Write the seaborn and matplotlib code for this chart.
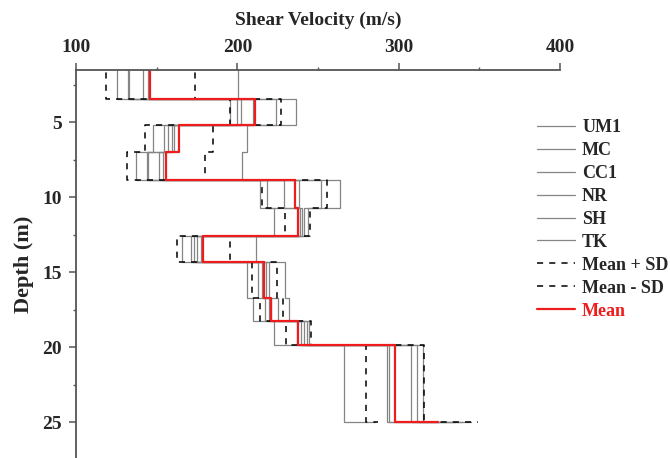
import pandas as pd
import seaborn as sns
import matplotlib
import matplotlib.pyplot as plt
from matplotlib.ticker import MultipleLocator

matplotlib.use('Agg')

# top depth of each layer (m), last one is the top of the half-space
depths = [0.0, 3.4, 5.2, 7.0, 8.85, 10.7, 12.55, 14.33, 16.72, 18.28, 19.83, 25.0]

# shear velocity (m/s) of each layer for every site
um1 = [125.4, 195.4, 147.5, 137.4, 214.1, 222.8, 165.4, 206.2, 209.7, 222.8, 265.9, 285.0]
mc = [132.2, 200.0, 154.4, 144.0, 218.2, 237.5, 171.4, 213.1, 217.0, 237.0, 292.7, 315.0]
cc1 = [133.0, 202.0, 157.0, 144.4, 229.0, 238.9, 173.0, 215.0, 219.7, 239.4, 294.0, 325.0]
nr = [141.3, 210.0, 159.5, 151.7, 237.9, 240.0, 175.1, 217.6, 221.0, 241.4, 307.8, 335.0]
sh = [144.9, 224.2, 160.6, 154.0, 251.8, 241.4, 177.2, 219.7, 224.9, 243.1, 311.3, 340.0]
tk = [200.2, 236.3, 205.8, 203.1, 263.6, 243.5, 211.4, 229.6, 232.1, 244.5, 315.0, 345.0]

mean_vs = [146.1, 211.0, 164.1, 155.8, 235.8, 237.3, 178.6, 216.2, 220.7, 237.3, 297.8, 324.4]
mean_plus_sd = [173.6, 227.1, 185.1, 179.9, 255.3, 245.2, 195.2, 224.3, 228.0, 245.6, 315.9, 349.2]
mean_minus_sd = [118.7, 195.4, 143.0, 131.6, 215.5, 229.6, 162.7, 208.9, 213.9, 230.0, 279.8, 287.4]

profiles = {
    'UM1': um1, 'MC': mc, 'CC1': cc1, 'NR': nr, 'SH': sh, 'TK': tk,
    'Mean + SD': mean_plus_sd, 'Mean - SD': mean_minus_sd, 'Mean': mean_vs,
}

# long table for seaborn
rows = []
for name, vals in profiles.items():
    for d, v in zip(depths, vals):
        rows.append({'profile': name, 'depth': d, 'velocity': v})
df = pd.DataFrame(rows)

sns.set_style('ticks')
plt.rcParams['font.family'] = ['Liberation Serif', 'DejaVu Serif']
plt.rcParams['font.weight'] = 'bold'
plt.rcParams['axes.labelweight'] = 'bold'

fig, ax = plt.subplots(figsize=(6.7, 4.58), dpi=100)
fig.subplots_adjust(left=0.1134, right=0.836, top=0.847, bottom=0.0)

line_styles = {
    'Mean + SD': dict(color='black', lw=1.1, linestyle=(0, (4, 4))),
    'Mean - SD': dict(color='black', lw=1.1, linestyle=(0, (4, 4))),
    'Mean': dict(color='#ee1c1c', lw=1.6, linestyle='-'),
}

for name in profiles:
    kw = line_styles.get(name, dict(color='#858585', lw=0.9, linestyle='-'))
    sns.lineplot(data=df[df['profile'] == name], x='velocity', y='depth',
                 sort=False, estimator=None, drawstyle='steps-pre',
                 label=name, ax=ax, **kw)

handles, labels = ax.get_legend_handles_labels()
if ax.get_legend() is not None:
    ax.get_legend().remove()

ax.set_xlim(100, 400)
ax.set_ylim(27.4, 1.5)
ax.xaxis.tick_top()
ax.xaxis.set_label_position('top')
ax.xaxis.set_major_locator(MultipleLocator(100))
ax.xaxis.set_minor_locator(MultipleLocator(50))
ax.yaxis.set_major_locator(MultipleLocator(5))
ax.yaxis.set_minor_locator(MultipleLocator(2.5))
ax.set_yticks([5, 10, 15, 20, 25])

ax.set_xlabel('Shear Velocity (m/s)', fontsize=14, fontweight='bold', labelpad=10)
ax.set_ylabel('Depth (m)', fontsize=16, fontweight='bold', labelpad=6)

ax.tick_params(which='major', length=5, width=1.1, color='#555555', labelsize=14, pad=5)
ax.tick_params(which='minor', length=2.5, width=1.0, color='#555555')
ax.tick_params(axis='x', which='both', top=True, bottom=False)
for lab in ax.get_xticklabels() + ax.get_yticklabels():
    lab.set_fontweight('bold')

for side in ['right', 'bottom']:
    ax.spines[side].set_visible(False)
for side in ['top', 'left']:
    ax.spines[side].set_color('#555555')
    ax.spines[side].set_linewidth(1.3)

leg = fig.legend(handles, labels, loc='upper left', bbox_to_anchor=(537 / 670, 1 - 119 / 458),
                 frameon=False, fontsize=13, handlelength=2.1, handletextpad=0.4,
                 labelspacing=0.33, borderpad=0, borderaxespad=0)
for txt in leg.get_texts():
    txt.set_fontweight('bold')
    if txt.get_text() == 'Mean':
        txt.set_color('#ee1c1c')

fig.savefig('out.png', dpi=100)
